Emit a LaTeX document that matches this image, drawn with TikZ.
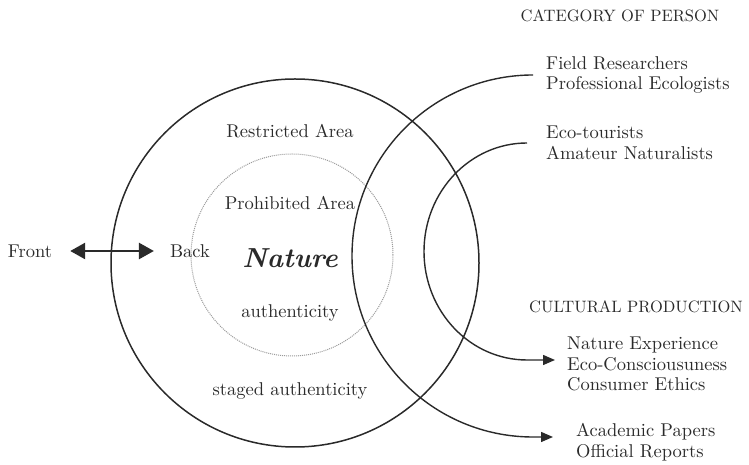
\documentclass[tikz,border=0pt]{standalone}
\usepackage{fontspec}
\setmainfont{lmroman10-regular.otf}[
  BoldFont=lmroman10-bold.otf,
  ItalicFont=lmroman10-italic.otf,
  BoldItalicFont=lmroman10-bolditalic.otf]
\usepackage{tikz}
\usetikzlibrary{positioning,arrows.meta}

\definecolor{ink}{HTML}{2A2A2A}
\definecolor{fog}{HTML}{9A9A9A}

\tikzset{
  lbl/.style={text=ink,inner sep=3pt,font=\fontsize{18.5}{20.5}\selectfont},
  head/.style={lbl,font=\fontsize{16.5}{19}\selectfont},
  grp/.style={lbl,align=left,anchor=west},
  flow/.style={draw=ink,line width=1.4pt,-{Triangle[length=12pt,width=10pt]}},
}

\begin{document}
\begin{tikzpicture}[x=1pt,y=1pt,node distance=55pt,on grid]
\useasboundingbox (0,0) rectangle (749,465);

% zones round the core
\draw[ink,line width=1.5pt] (295,202) circle[radius=184pt];
\draw[fog,densely dotted,line width=1pt] (292,210) circle[radius=101pt];

\node[lbl,font=\fontsize{27.5}{30}\selectfont\bfseries\itshape] (nature) at (290,207) {Nature};
\node[lbl,above=of nature] (prohib) {Prohibited Area};
\node[lbl,above=72pt of prohib] (restr) {Restricted Area};
\node[lbl,below=of nature] (auth) {authenticity};
\node[lbl,below=78pt of auth] (staged) {staged authenticity};

% front / back
\node[lbl] (front) at (30,214) {Front};
\node[lbl,right=160pt of front] (back) {Back};
\draw[ink,line width=2.6pt,{Triangle[length=15pt,width=16pt]}-{Triangle[length=15pt,width=16pt]},
      shorten <=15pt,shorten >=13pt] (front) -- (back);

% right hand side
\node[head] (cat) at (620,449) {CATEGORY OF PERSON};
\node[grp] (field) at (543,390) {Field Researchers\\Professional Ecologists};
\node[grp] (eco) at (543,322) {Eco-tourists\\Amateur Naturalists};
\node[head] (cult) at (636,158) {CULTURAL PRODUCTION};
\node[grp] (natexp) at (564,101) {Nature Experience\\Eco-Consciousuness\\Consumer Ethics};
\node[grp] (academic) at (573,23) {Academic Papers\\Official Reports};

\draw[flow,shorten >=20pt] ([xshift=-10pt]field.west)
    arc[start angle=90,end angle=270,radius=181pt] coordinate (p1) -- (p1 -| academic.west);
\draw[flow,shorten >=9pt] ([xshift=-16pt]eco.west)
    arc[start angle=90,end angle=270,x radius=103pt,y radius=108.5pt] coordinate (p2) -- (p2 -| natexp.west);
\end{tikzpicture}
\end{document}
